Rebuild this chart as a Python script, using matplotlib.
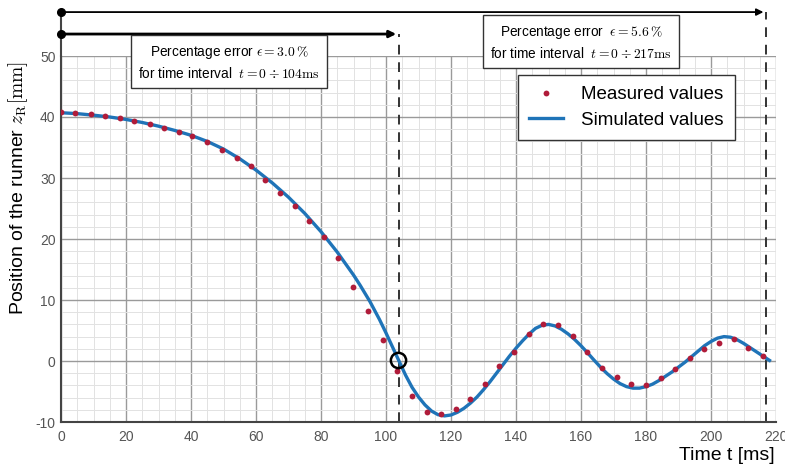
import numpy as np
from matplotlib import pyplot as plt
from matplotlib.ticker import MultipleLocator

plt.rcParams['font.family'] = ['Liberation Sans', 'DejaVu Sans']
plt.rcParams['mathtext.fontset'] = 'cm'
plt.rcParams['axes.unicode_minus'] = False

meas_t = [0.0, 4.3, 9.2, 13.6, 18.2, 22.5, 27.3, 31.8, 36.2, 40.4, 44.9, 49.4,
          54.1, 58.4, 62.9, 67.4, 71.9, 76.3, 80.8, 85.3, 89.8, 94.4, 99.0, 103.5,
          107.9, 112.5, 117.0, 121.5, 125.8, 130.5, 134.9, 139.5, 144.0, 148.4,
          153.0, 157.4, 161.9, 166.5, 171.0, 175.5, 180.0, 184.5, 189.0, 193.5,
          197.9, 202.5, 207.0, 211.5, 216.0]
meas_z = [40.8, 40.6, 40.5, 40.1, 39.8, 39.3, 38.9, 38.2, 37.6, 36.9, 35.9, 34.6,
          33.3, 32.0, 29.7, 27.6, 25.4, 22.95, 20.3, 16.9, 12.2, 8.2, 3.5, -1.6,
          -5.7, -8.4, -8.7, -7.9, -6.3, -3.8, -0.9, 1.5, 4.4, 6.1,
          5.9, 4.1, 1.4, -1.1, -2.7, -3.7, -3.9, -2.8, -1.3, 0.5,
          1.9, 2.9, 3.6, 2.2, 0.9]

# simulated curve
sim_t = [0, 5, 10, 15, 20, 25, 30, 35, 40, 45, 50, 55, 60, 65, 70, 75, 80, 85,
         88, 90, 92, 95, 98, 100, 102, 104, 106, 108, 110, 112, 114, 116, 118,
         120, 122, 124, 126, 128, 130, 132, 134, 136, 138, 140, 142, 144, 146,
         148, 150, 152, 154, 156, 158, 160, 162, 164, 166, 168, 170, 172, 174,
         176, 178, 180, 182, 184, 186, 188, 190, 192, 194, 196, 198, 200, 202,
         204, 206, 208, 210, 212, 214, 216, 218]
sim_z = [40.7, 40.55, 40.3, 40.0, 39.6, 39.1, 38.5, 37.8, 37.0, 36.0, 34.75,
         33.15, 31.3, 29.2, 26.85, 24.2, 21.2, 17.85, 15.6, 14.1, 12.45, 9.8,
         6.8, 4.6, 2.3, 0.0, -2.3, -4.3, -5.9, -7.2, -8.2, -8.8, -9.0,
         -8.85, -8.4, -7.75, -6.9, -5.9, -4.7, -3.4, -2.0, -0.6, 0.8, 2.1, 3.3,
         4.4, 5.35, 5.85, 6.0, 5.75, 5.2, 4.45, 3.55, 2.5, 1.35, 0.15, -1.0,
         -2.05, -2.95, -3.7, -4.2, -4.45, -4.45, -4.2, -3.8, -3.2, -2.5, -1.8,
         -1.0, -0.2, 0.7, 1.6, 2.5, 3.2, 3.75, 4.0, 3.9, 3.5, 2.9, 2.2, 1.5,
         0.8, 0.1]

t_split = 104
t_end = 217
arrow_low = 53.6
arrow_high = 57.2

fig = plt.figure(figsize=(7.85, 4.73), dpi=100)
ax = fig.add_axes([61 / 785, 51 / 473, 715 / 785, 366 / 473])

ax.set_xlim(0, 220)
ax.set_ylim(-10, 50)
ax.xaxis.set_major_locator(MultipleLocator(20))
ax.xaxis.set_minor_locator(MultipleLocator(5))
ax.yaxis.set_major_locator(MultipleLocator(10))
ax.yaxis.set_minor_locator(MultipleLocator(2))
ax.grid(which='major', color='#9a9a9a', linewidth=1.0)
ax.grid(which='minor', color='#e2e2e2', linewidth=0.7)
ax.set_axisbelow(True)

for s in ['top', 'right']:
    ax.spines[s].set_visible(False)
for s in ['left', 'bottom']:
    ax.spines[s].set_color('#444444')
    ax.spines[s].set_linewidth(1.5)
ax.tick_params(which='both', length=0, labelsize=10, labelcolor='#555555', pad=4)
ax.tick_params(axis='x', pad=6)

ax.plot(sim_t, sim_z, color='#1f74b8', linewidth=2.4, label='Simulated values', zorder=3)
ax.plot(meas_t, meas_z, 'o', color='#b01c3a', markersize=4.2, markeredgewidth=0,
        label='Measured values', zorder=4)
ax.plot([103.8], [0.1], 'o', markersize=11, markerfacecolor='none',
        markeredgecolor='black', markeredgewidth=1.8, zorder=5)

# dashed separators and interval arrows
ax.plot([t_split, t_split], [-10, arrow_low], color='#333333', linestyle=(0, (5, 4)),
        linewidth=1.4, clip_on=False, zorder=2)
ax.plot([t_end, t_end], [-10, arrow_high], color='#333333', linestyle=(0, (5, 4)),
        linewidth=1.4, clip_on=False, zorder=2)
ax.plot([0, 0], [50, arrow_high], color='#444444', linewidth=1.5, clip_on=False)
ax.annotate('', xy=(t_split, arrow_low), xytext=(0, arrow_low),
            arrowprops=dict(arrowstyle='-|>', color='black', lw=2, mutation_scale=10),
            annotation_clip=False)
ax.annotate('', xy=(t_end, arrow_high), xytext=(0, arrow_high),
            arrowprops=dict(arrowstyle='-|>', color='black', lw=1.3, mutation_scale=10),
            annotation_clip=False)
ax.plot([0, 0], [arrow_low, arrow_high], 'o', color='black', markersize=5.5, clip_on=False)

box = dict(boxstyle='square,pad=0.5', facecolor='white', edgecolor='#333333', linewidth=1)
ax.text(51.7, 48.9, 'Percentage error $\\epsilon = 3.0\\,\\%$\nfor time interval  $t = 0 \\div 104\\mathrm{ms}$',
        ha='center', va='center', fontsize=9.8, fontweight='medium', linespacing=1.45,
        bbox=box, zorder=6, clip_on=False)
ax.text(160, 52.2, 'Percentage error  $\\epsilon = 5.6\\,\\%$\nfor time interval  $t = 0 \\div 217\\mathrm{ms}$',
        ha='center', va='center', fontsize=9.8, fontweight='medium', linespacing=1.45,
        bbox=box, zorder=6, clip_on=False)

handles, labels = ax.get_legend_handles_labels()
leg = ax.legend(handles[::-1], labels[::-1], loc='upper right',
                bbox_to_anchor=(735 / 785, 1 - 75 / 473), bbox_transform=fig.transFigure,
                borderaxespad=0, fontsize=13.5, frameon=True, fancybox=False,
                edgecolor='#333333', framealpha=1, handlelength=1.8, handletextpad=1.0,
                borderpad=0.6, labelspacing=0.45)
leg.get_frame().set_linewidth(1)
leg.set_zorder(7)

fig.text(775 / 785, 1 - 455 / 473, 'Time t [ms]', ha='right', va='center', fontsize=14)
fig.text(18 / 785, 1 - 188 / 473, 'Position of the runner $z_\\mathrm{R}[\\mathrm{mm}]$',
         ha='center', va='center', rotation=90, fontsize=14)

fig.savefig('out.png', dpi=100)
